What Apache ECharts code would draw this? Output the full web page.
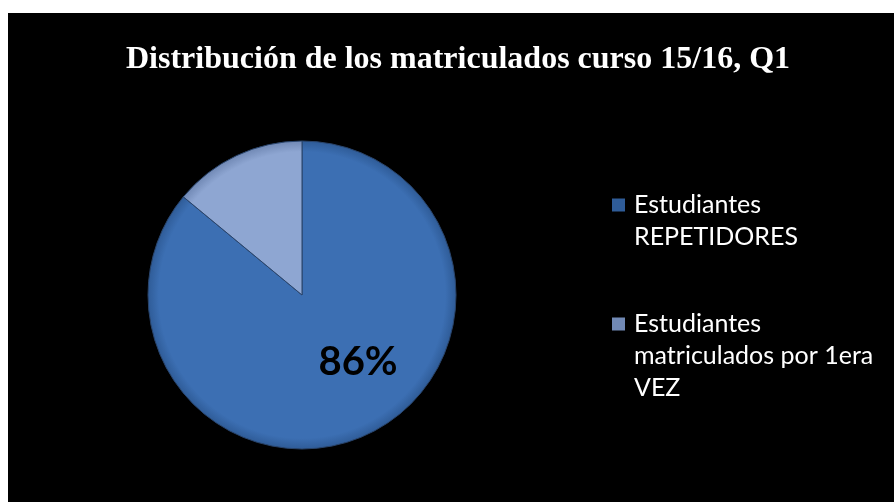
<!DOCTYPE html>
<html>
<head>
<meta charset="utf-8">
<script src="https://cdn.jsdelivr.net/npm/echarts@6/dist/echarts.min.js"></script>
<style>
html,body{margin:0;padding:0;background:#fff;}
#main{position:absolute;left:8px;top:13px;width:886px;height:489px;background:#000;}
</style>
</head>
<body>
<div id="main"></div>
<script>
//categorías y valores (%)
var categorias = ['Estudiantes REPETIDORES', 'Estudiantes matriculados por 1era VEZ'];
var textosLeyenda = ['Estudiantes\nREPETIDORES', 'Estudiantes\nmatriculados por 1era\nVEZ'];
var valores = [86, 14];
var colores = ['#3c6fb3', '#8ea6d2'];
var coloresBorde = ['#2f5c98', '#7189b5'];

var myChart = echarts.init(document.getElementById('main'));
//centro del pastel en coordenadas del contenedor
var cx = 294, cy = 282, r = 154;
var altoLinea = 32;

var datos = [];
var leyenda = [];
for (var i = 0; i < categorias.length; i++) {
	datos.push({
		name: categorias[i],
		value: valores[i],
		itemStyle: {
			color: {
				type: 'radial', x: cx, y: cy, r: r, global: true,
				colorStops: [
					{offset: 0, color: colores[i]},
					{offset: 0.93, color: colores[i]},
					{offset: 1, color: coloresBorde[i]}
				]
			}
		},
		label: i == 0 ? {show: true, offset: [22, -5]} : {show: false}
	});
	//icono alineado con la primera línea del texto
	var lineas = textosLeyenda[i].split('\n').length;
	var fondo = 13 + (lineas - 1) * altoLinea;
	leyenda.push({
		name: categorias[i],
		icon: 'path://M0,0H13V13H0Z M0,' + fondo + 'L13,' + fondo
	});
}

var option = {
	backgroundColor: '#000',
	title: {
		text: 'Distribución de los matriculados curso 15/16, Q1',
		left: 113, top: 26,
		textStyle: {color: '#fff', fontFamily: 'Liberation Serif', fontWeight: 'bold', fontSize: 32}
	},
	legend: {
		orient: 'vertical', left: 599, top: 171,
		itemWidth: 13, itemHeight: 13 + 2 * altoLinea, itemGap: 55,
		symbolKeepAspect: true,
		itemStyle: {borderWidth: 0},
		data: leyenda,
		formatter: function(name){
			return textosLeyenda[categorias.indexOf(name)];
		},
		textStyle: {color: '#fff', fontFamily: 'Lato', fontSize: 25, lineHeight: altoLinea, padding: [0,0,0,4]}
	},
	series: [{
		type: 'pie',
		radius: r,
		center: [cx, cy],
		startAngle: 90,
		clockwise: true,
		animation: false,
		silent: true,
		label: {
			position: 'inside',
			formatter: '{c}%',
			color: '#000', fontFamily: 'Lato', fontWeight: 'bold', fontSize: 40
		},
		itemStyle: {borderColor: '#29446b', borderWidth: 1},
		data: datos
	}]
};
myChart.setOption(option);
</script>
</body>
</html>
